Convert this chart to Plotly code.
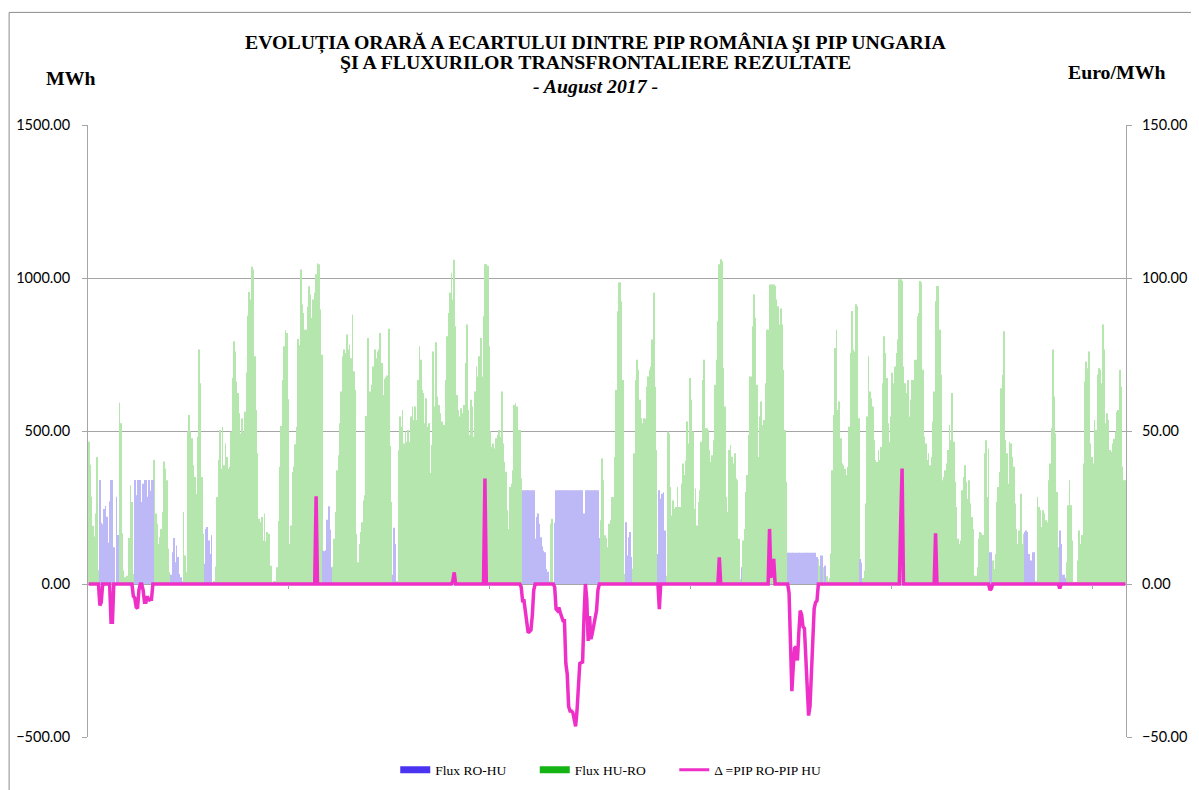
import plotly.graph_objects as go

# Flux orar net [MWh]: pozitiv = HU->RO, negativ = RO->HU (cate 24 ore pe rand, 1..31 aug)
flux_net = [
    465, 390, 285, 190, 155, 230, 415, 45, -340, -200, -195, -245, -255, -220, -135, -270, -340, -340, -120, 5, -285, -160, 593, 525,
    166, 44, 22, 27, 27, 150, 323, 268, 33, -340, -290, -340, -340, -340, -268, -328, -340, -340, -285, -340, -305, -340, -340, 405,
    230, 197, 131, 153, 180, 235, 400, 377, 339, 115, 38, -30, -104, -150, -71, -126, -88, -33, -22, 10, 235, 93, 38, 498,
    552, 498, 476, 388, 350, 295, 481, 766, 656, 350, 164, -66, -180, -186, -142, -98, -159, 5, 10, 57, 284, 405, 503, 377,
    514, 388, 459, 415, 377, 383, 498, 673, 793, 760, 662, 624, 558, 492, 541, 498, 563, 691, 877, 954, 930, 1037, 1028, 744,
    569, 427, 213, 202, 219, 142, 230, 140, 170, 164, 60, 60, 5, 10, 10, 55, 206, 383, 516, 667, 777, 829, 820, 604,
    131, 191, 366, 383, 457, 514, 801, 780, 1028, 913, 886, 831, 831, 906, 973, 946, 870, 930, 952, 1012, 1048, 1045, 897, 749,
    -109, -107, -110, -210, -254, -177, -55, 57, 148, 235, 372, 421, 525, 629, 744, 766, 755, 815, 766, 782, 738, 881, 695, 634,
    164, 71, 131, 170, 202, 273, 290, 549, 804, 629, 629, 651, 711, 766, 738, 760, 766, 820, 722, 618, 670, 676, 681, 834,
    451, 268, -30, -184, -131, 10, 437, 547, 514, 569, 459, 498, 465, 503, 465, 547, 580, 536, 580, 536, 667, 777, 733, 634,
    624, 525, 607, 514, 525, 363, 454, 760, 580, 790, 613, 585, 558, 531, 520, 520, 667, 810, 886, 952, 1017, 930, 1060, 842,
    618, 569, 547, 574, 558, 585, 722, 848, 569, 487, 602, 580, 481, 629, 711, 678, 744, 804, 678, 875, 1045, 1045, 1040, 777,
    498, 448, 459, 443, 476, 487, 503, 480, 629, 459, 399, 367, 241, 180, 317, 328, 372, 585, 591, 580, 503, 503, 345, -306,
    -306, -306, -306, -306, -306, -306, -306, -306, -148, -219, -230, -197, -153, -123, -109, -104, -49, -40, 10, 197, 213, 5, -200, -306,
    -306, -306, -306, -306, -306, -306, -306, -306, -306, -306, -306, -306, -306, -306, -306, -306, -306, -306, -306, -230, -306, -306, -306, -306,
    -306, -306, -306, -306, -306, -306, -150, 208, 410, 339, 159, 150, 120, 197, 208, 284, 284, 415, 634, 891, 985, 985, 924, 667,
    33, -202, -93, -153, -170, -88, 50, 427, 667, 733, 700, 602, 542, 525, 542, 540, 645, 678, 700, 711, 799, 952, 645, 438,
    -98, -306, -279, -295, -300, -175, 27, 498, 492, 317, 224, 273, 246, 252, 317, 252, 252, 328, 394, 356, 403, 531, 459, 673,
    602, 498, 246, 312, 191, 268, 306, 465, 667, 733, 509, 509, 503, 438, 399, 421, 470, 651, 733, 859, 1045, 1061, 1055, 706,
    580, 284, 235, 438, 454, 416, 394, 427, 345, 339, 148, 16, -55, 142, 180, 301, 356, 487, 678, 678, 842, 946, 870, 651,
    415, 547, 596, 520, 536, 656, 831, 831, 979, 979, 979, 979, 974, 930, 908, 848, 900, 848, 700, 503, 334, -102, -102, -102,
    -102, -102, -102, -102, -102, -102, -102, -102, -102, -102, -102, -102, -102, -102, -102, -102, -102, -102, -88, 82, 60, -93, -93, 55,
    -60, 25, 10, 20, 100, 372, 552, 771, 831, 569, 596, 476, 394, 388, 377, 356, 383, 514, 755, 892, 766, 760, 914, 908,
    542, -82, -70, 20, 44, 263, 547, 744, 629, 607, 580, 470, 405, 399, 438, 405, 448, 656, 810, 755, 673, 525, 465, 547,
    690, 656, 711, 755, 799, 996, 996, 990, 711, 656, 624, 667, 547, 602, 667, 667, 733, 733, 875, 886, 990, 985, 700, 481,
    459, 405, 427, 388, 415, 531, 629, 924, 974, 974, 831, 684, 339, 350, 372, 394, 438, 520, 470, 624, 465, 334, 252, 148,
    131, 142, 306, 350, 388, 334, 279, 339, 263, 219, 180, 27, 27, 55, 148, 170, 166, 160, 427, 470, 284, 443, -104, -104,
    77, 49, 98, 268, 317, 366, 640, 684, 826, 470, 427, 328, 465, 459, 415, 383, 263, 180, 131, 175, 295, 131, 164, -170,
    -175, -170, -98, -77, -77, -104, -104, 10, 284, 252, 241, 186, 241, 230, 208, 202, 339, 394, 509, 766, 613, 492, 301, 120,
    -175, -131, -30, -30, -20, 71, 257, 339, 257, 142, 5, 5, 5, 77, 175, 131, 160, 394, 662, 727, 705, 760, 459, 415,
    394, 536, 503, 684, 705, 700, 656, 848, 766, 525, 558, 536, 438, 432, 459, 475, 498, 563, 569, 700, 645, 383, 339, 339,
]

# Ecart PIP RO - PIP HU [Euro/MWh], doar orele nenule (ora 0 = 1 aug 00:00)
ecart_nenul = {
    8: -7, 9: -6, 16: -12.5, 17: -12.5,
    32: -4, 33: -4.5, 34: -7.5, 35: -8, 36: -2, 39: -2, 40: -6, 41: -6, 42: -4, 43: -5.5, 44: -5, 45: -5,
    163: 28.7, 261: 1, 262: 3.8, 284: 34.5,
    310: -1, 311: -5.5, 312: -5.5, 313: -9, 314: -14.5, 315: -15.9, 316: -15.5, 317: -15, 318: -10, 319: -2,
    334: -1, 335: -8.2, 336: -8.7, 337: -7.7, 338: -9.3, 339: -11, 340: -12, 341: -12, 342: -26, 343: -29.5,
    344: -40, 345: -41.5, 346: -41.5, 347: -42, 348: -44.9, 349: -46.5, 350: -41.5, 351: -35, 352: -26,
    353: -25.7, 354: -25.5, 355: -11, 356: 0, 357: -5, 358: -18.6, 359: -10.5, 360: -18, 361: -16, 362: -13,
    363: -11, 364: -8.7, 365: -2,
    409: -8.2, 452: 8.7, 488: 18, 489: 2, 490: 6, 491: 8.2,
    502: -3, 503: -18, 504: -35, 505: -27, 506: -21, 507: -20.5, 508: -25, 509: -16, 510: -8.7, 511: -10,
    512: -14, 513: -14.5, 514: -25, 515: -35, 516: -43, 517: -40, 518: -30, 519: -18.6, 520: -8, 521: -6, 522: -5.5,
    582: 20, 583: 37.7, 607: 16.6, 646: -2, 647: -1.5, 696: -1.5,
}

left_ticks = [-500, 0, 500, 1000, 1500]
right_ticks = [-50, 0, 50, 100, 150]
separatori = [143.5, 287.5, 431.5, 575.5, 719.5]

ore = list(range(len(flux_net)))
hu_ro = [v if v > 0 else 0 for v in flux_net]
ro_hu = [-v if v < 0 else 0 for v in flux_net]
ecart = [ecart_nenul.get(h, 0.0) for h in ore]

GREEN_BAR = '#b4e6ad'
BLUE_BAR = '#bdb8f6'
PINK = '#ee30c8'
GRID = '#a6a6a6'
SERIF = 'Liberation Serif'
PAD = '\u00a0' * 7  # spatiere intre intrarile legendei

fig = go.Figure()
fig.add_trace(go.Bar(x=ore, y=hu_ro, marker=dict(color=GREEN_BAR, line=dict(width=0)),
                     showlegend=False, hoverinfo='skip'))
fig.add_trace(go.Bar(x=ore, y=ro_hu, marker=dict(color=BLUE_BAR, line=dict(width=0)),
                     showlegend=False, hoverinfo='skip'))
fig.add_trace(go.Scatter(x=ore, y=ecart, mode='lines', yaxis='y2',
                         line=dict(color=PINK, width=3.5), showlegend=False))

# intrari de legenda
fig.add_trace(go.Scatter(x=[None], y=[None], mode='lines', name='Flux RO-HU' + PAD,
                         line=dict(color='#4b33f2', width=7)))
fig.add_trace(go.Scatter(x=[None], y=[None], mode='lines', name='Flux HU-RO' + PAD,
                         line=dict(color='#14b414', width=7)))
fig.add_trace(go.Scatter(x=[None], y=[None], mode='lines', name='Δ =PIP RO-PIP HU',
                         line=dict(color=PINK, width=3)))

tick_font = dict(family='Lato', size=14.5, color='black')

# pagina are margine implicita de 8px, deci marginile sunt compensate
fig.update_layout(
    width=1199, height=790,
    paper_bgcolor='white', plot_bgcolor='white',
    margin=dict(l=80, r=81, t=117, b=61),
    barmode='overlay', bargap=0.5,
    showlegend=True,
    legend=dict(orientation='h', x=0.296, xanchor='left', y=-0.054, yanchor='middle',
                font=dict(family=SERIF, size=13.5, color='black'), tracegroupgap=0),
    xaxis=dict(range=[-0.5, len(ore) - 0.5], anchor='free', position=0.25,
               showgrid=False, zeroline=False, showline=False, showticklabels=False,
               tickvals=separatori, ticks='outside', ticklen=4, tickcolor=GRID,
               automargin=False),
    yaxis=dict(range=[-500, 1500], tickvals=left_ticks, tickformat='.2f',
               showgrid=True, gridcolor=GRID, gridwidth=1, zeroline=False,
               showline=True, linecolor=GRID, ticks='outside', ticklen=5, tickcolor=GRID,
               tickfont=tick_font, ticklabelstandoff=9, automargin=False),
    yaxis2=dict(range=[-50, 150], tickvals=right_ticks, tickformat='.2f', overlaying='y',
                side='right', showgrid=False, zeroline=False,
                showline=True, linecolor=GRID, ticks='outside', ticklen=5, tickcolor=GRID,
                tickfont=tick_font, ticklabelstandoff=7, automargin=False),
    font=dict(family=SERIF, color='black'),
)

titluri = [
    ('<b>EVOLUȚIA ORARĂ A ECARTULUI DINTRE PIP ROMÂNIA ŞI PIP UNGARIA</b>', 1.1356),
    ('<b>ŞI A FLUXURILOR TRANSFRONTALIERE REZULTATE</b>', 1.103),
    ('<b><i>- August 2017 -</i></b>', 1.0637),
]
for text, y in titluri:
    fig.add_annotation(text=text, x=0.489, y=y, xref='paper', yref='paper',
                       xanchor='center', yanchor='middle', showarrow=False,
                       font=dict(family=SERIF, size=19.8, color='black'))
fig.add_annotation(text='<b>MWh</b>', x=-0.017, y=1.077, xref='paper', yref='paper',
                   xanchor='center', yanchor='middle', showarrow=False,
                   font=dict(family=SERIF, size=19.8, color='black'))
fig.add_annotation(text='<b>Euro/MWh</b>', x=0.991, y=1.087, xref='paper', yref='paper',
                   xanchor='center', yanchor='middle', showarrow=False,
                   font=dict(family=SERIF, size=19.8, color='black'))

# chenarul graficului
fig.add_shape(type='line', xref='paper', yref='paper', x0=-0.076, x1=1.2, y0=1.184, y1=1.184,
              line=dict(color='#8c8c8c', width=1))
fig.add_shape(type='line', xref='paper', yref='paper', x0=-0.076, x1=-0.076, y0=-0.2, y1=1.184,
              line=dict(color='#8c8c8c', width=1))

fig.write_html("out.html")
